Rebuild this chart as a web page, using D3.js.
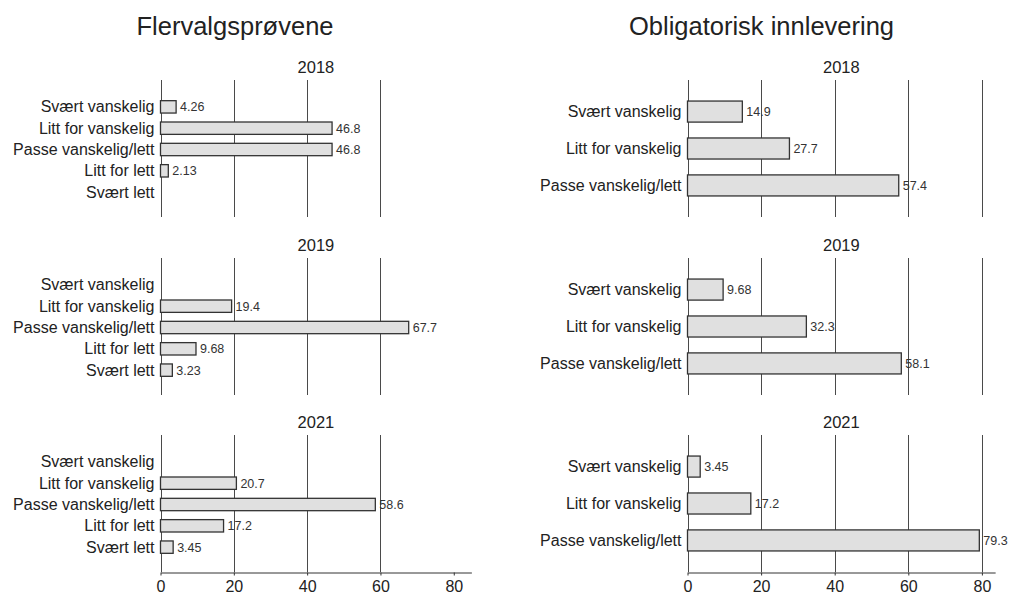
<!DOCTYPE html>
<html>
<head>
<meta charset="utf-8">
<script src="https://cdn.jsdelivr.net/npm/d3@7"></script>
<style>
  html, body { margin: 0; padding: 0; background: #fff; }
  svg { display: block; font-family: "Liberation Sans", Arial, sans-serif; }
</style>
</head>
<body>
<svg id="chart" width="1011" height="594"></svg>
<script>
// ---- data ----
const titles = ["Flervalgsprøvene", "Obligatorisk innlevering"];
const years = ["2018", "2019", "2021"];
const leftCategories = ["Svært vanskelig", "Litt for vanskelig", "Passe vanskelig/lett", "Litt for lett", "Svært lett"];
const rightCategories = ["Svært vanskelig", "Litt for vanskelig", "Passe vanskelig/lett"];
const flervalg2018 = [4.26, 46.8, 46.8, 2.13, null];
const flervalg2019 = [null, 19.4, 67.7, 9.68, 3.23];
const flervalg2021 = [null, 20.7, 58.6, 17.2, 3.45];
const oblig2018 = [14.9, 27.7, 57.4];
const oblig2019 = [9.68, 32.3, 58.1];
const oblig2021 = [3.45, 17.2, 79.3];
const tickValues = [0, 20, 40, 60, 80];
const leftGrid = [0, 20, 40, 60];
const rightGrid = [0, 20, 40, 60, 80];
const valueLabels = {
  flervalg2018: ["4.26", "46.8", "46.8", "2.13", ""],
  flervalg2019: ["", "19.4", "67.7", "9.68", "3.23"],
  flervalg2021: ["", "20.7", "58.6", "17.2", "3.45"],
  oblig2018: ["14.9", "27.7", "57.4"],
  oblig2019: ["9.68", "32.3", "58.1"],
  oblig2021: ["3.45", "17.2", "79.3"]
};

// ---- layout ----
const svg = d3.select("#chart");
const panelTops = [80, 258, 435];
const panelH = 137;
const columns = [
  { title: titles[0], titleX: 235, cats: leftCategories, series: [flervalg2018, flervalg2019, flervalg2021],
    labels: [valueLabels.flervalg2018, valueLabels.flervalg2019, valueLabels.flervalg2021],
    x: d3.scaleLinear().domain([0, 84.8]).range([160.5, 160.5 + 84.8 * 3.666]),
    grid: leftGrid, bandRange: 139, pi: 0.42, po: 0.97 },
  { title: titles[1], titleX: 761.5, cats: rightCategories, series: [oblig2018, oblig2019, oblig2021],
    labels: [valueLabels.oblig2018, valueLabels.oblig2019, valueLabels.oblig2021],
    x: d3.scaleLinear().domain([0, 83.6]).range([687.5, 687.5 + 83.6 * 3.68]),
    grid: rightGrid, bandRange: 137, pi: 0.43, po: 0.57 }
];

const ink = "#222";
const gridColor = "#4a4a4a";

columns.forEach(col => {
  svg.append("text")
    .attr("x", col.titleX).attr("y", 35)
    .attr("text-anchor", "middle")
    .attr("font-size", 25.5).attr("fill", ink)
    .text(col.title);

  const x = col.x;
  const [x0, x1] = x.range();

  years.forEach((yr, pi) => {
    const top = panelTops[pi];
    const g = svg.append("g");
    const y = d3.scaleBand().domain(col.cats).range([top, top + col.bandRange])
      .paddingInner(col.pi).paddingOuter(col.po);

    // year title
    g.append("text")
      .attr("x", (x0 + x1) / 2).attr("y", top - 7.5)
      .attr("text-anchor", "middle")
      .attr("font-size", 16.5).attr("fill", ink)
      .text(yr);

    // gridlines
    g.selectAll("line.grid").data(col.grid).join("line")
      .attr("class", "grid")
      .attr("x1", d => Math.round(x(d)) + 0.5).attr("x2", d => Math.round(x(d)) + 0.5)
      .attr("y1", top).attr("y2", top + panelH)
      .attr("stroke", gridColor).attr("stroke-width", 1);

    // category labels
    g.selectAll("text.cat").data(col.cats).join("text")
      .attr("class", "cat")
      .attr("x", x0 - 6)
      .attr("y", d => y(d) + y.bandwidth() / 2)
      .attr("dy", "0.35em")
      .attr("text-anchor", "end")
      .attr("font-size", 16).attr("fill", ink)
      .text(d => d);

    const vals = col.series[pi];
    const labs = col.labels[pi];
    const rows = col.cats.map((c, i) => ({ c, v: vals[i], l: labs[i] })).filter(d => d.v != null);

    g.selectAll("rect.bar").data(rows).join("rect")
      .attr("class", "bar")
      .attr("x", x(0))
      .attr("y", d => y(d.c))
      .attr("width", d => x(d.v) - x(0))
      .attr("height", y.bandwidth())
      .attr("fill", "#e0e0e0")
      .attr("stroke", "#333")
      .attr("stroke-width", 1.3);

    g.selectAll("text.val").data(rows).join("text")
      .attr("class", "val")
      .attr("x", d => x(d.v) + 4)
      .attr("y", d => y(d.c) + y.bandwidth() / 2)
      .attr("dy", "0.35em")
      .attr("font-size", 12.5).attr("fill", "#333")
      .text(d => d.l);

    if (pi === years.length - 1) {
      const ax = g.append("g")
        .attr("transform", `translate(0,${top + panelH + 0.5})`)
        .call(d3.axisBottom(x).tickValues(tickValues).tickSize(3).tickSizeOuter(0).tickPadding(5));
      ax.select(".domain").attr("stroke", "#333");
      ax.selectAll(".tick line").attr("stroke", "#333");
      ax.selectAll(".tick text").attr("font-size", 16).attr("fill", ink)
        .attr("font-family", "\"Liberation Sans\", Arial, sans-serif");
    }
  });
});
</script>
</body>
</html>
